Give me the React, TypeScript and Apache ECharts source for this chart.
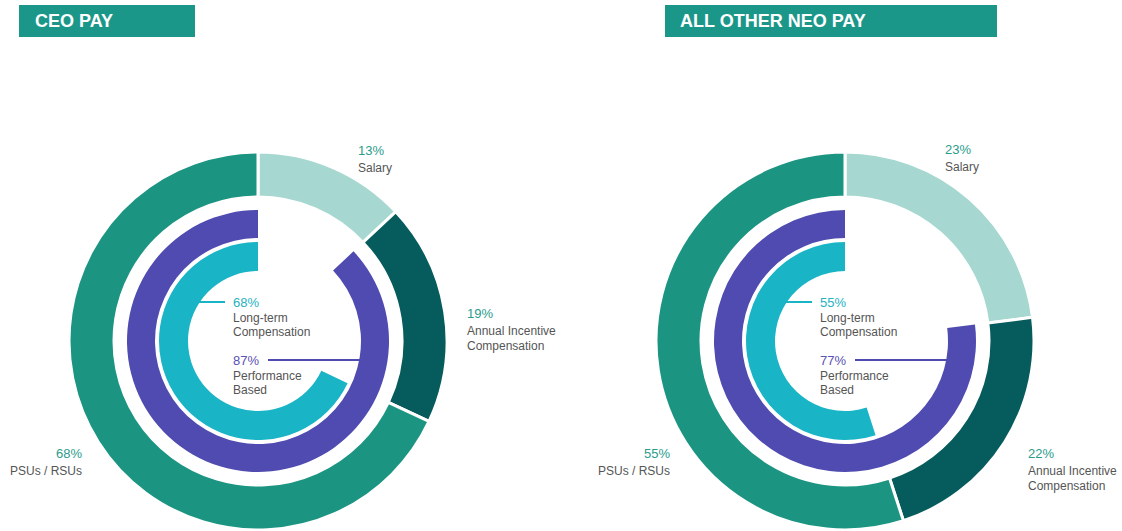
import React, { useEffect, useRef } from "react";
import * as echarts from "echarts";

// ---- data ----
const headers = ["CEO PAY", "ALL OTHER NEO PAY"];
const outerCategories = ["Salary", "Annual Incentive\nCompensation", "PSUs / RSUs"];
const ceoOuterValues = [13, 19, 68];
const neoOuterValues = [23, 22, 55];
const ringCategories = ["Long-term\nCompensation", "Performance\nBased"];
const ceoRingValues = [68, 87]; // long-term, performance based
const neoRingValues = [55, 77];

// ---- styles / layout ----
const FONT = '"Liberation Sans", Arial, sans-serif';
const outerColors = ["#a6d8d1", "#065b5c", "#1b9582"];
const cyan = "#19b4c6";
const purple = "#4f4bb0";
const teal = "#1b978a";
const pctTeal = "#2a9c8c";
const pctCyan = "#27b1c1";
const pctPurple = "#5a52b3";
const labelGray = "#555";

const R_OUT = [144, 189];
const R_PURPLE = [103, 131];
const R_CYAN = [70, 99];

const charts = [
  {
    header: headers[0],
    outer: ceoOuterValues,
    ring: ceoRingValues,
    cx: 258,
    cy: 341,
    headerRect: [19, 5, 176, 32],
    headerText: [35, 21],
    outerLabels: [
      [100, -197, "left"],
      [209, -34, "left"],
      [-176, 106, "right"],
    ],
  },
  {
    header: headers[1],
    outer: neoOuterValues,
    ring: neoRingValues,
    cx: 845,
    cy: 341,
    headerRect: [665, 5, 332, 32],
    headerText: [680, 21],
    outerLabels: [
      [100, -198, "left"],
      [183, 106, "left"],
      [-175, 106, "right"],
    ],
  },
];

function buildOption() {
  const series: any[] = [];
  const graphic: any[] = [];
  charts.forEach((c) => {
    series.push({
      type: "pie",
      name: c.header + " outer",
      center: [c.cx, c.cy],
      radius: R_OUT,
      startAngle: 90,
      clockwise: true,
      label: { show: false },
      labelLine: { show: false },
      silent: true,
      itemStyle: { borderColor: "#fff", borderWidth: 3 },
      data: c.outer.map((v, i) => ({
        name: outerCategories[i],
        value: v,
        itemStyle: { color: outerColors[i] },
      })),
    });
    const ringDefs = [
      { v: c.ring[1], r: R_PURPLE, color: purple, name: ringCategories[1] },
      { v: c.ring[0], r: R_CYAN, color: cyan, name: ringCategories[0] },
    ];
    ringDefs.forEach((d) => {
      series.push({
        type: "pie",
        name: c.header + " " + d.name,
        center: [c.cx, c.cy],
        radius: d.r,
        startAngle: 90,
        clockwise: true,
        silent: true,
        label: { show: false },
        labelLine: { show: false },
        data: [
          { name: "rest", value: 100 - d.v, itemStyle: { color: "rgba(0,0,0,0)" } },
          { name: d.name, value: d.v, itemStyle: { color: d.color } },
        ],
      });
    });

    // header
    const [hx, hy, hw, hh] = c.headerRect;
    graphic.push({
      type: "rect",
      shape: { x: hx, y: hy, width: hw, height: hh },
      style: { fill: teal },
    });
    graphic.push({
      type: "text",
      x: c.headerText[0],
      y: c.headerText[1],
      style: {
        text: c.header,
        fill: "#fff",
        font: `bold 18px ${FONT}`,
        verticalAlign: "middle",
        align: "left",
      },
    });

    // outer labels
    c.outer.forEach((v, i) => {
      const [dx, dy, align] = c.outerLabels[i] as [number, number, string];
      graphic.push({
        type: "text",
        x: c.cx + dx,
        y: c.cy + dy,
        style: {
          text: v + "%",
          fill: pctTeal,
          font: `13px ${FONT}`,
          align,
          verticalAlign: "top",
        },
      });
      graphic.push({
        type: "text",
        x: c.cx + dx,
        y: c.cy + dy + 16,
        style: {
          text: outerCategories[i],
          fill: labelGray,
          font: `12px ${FONT}`,
          lineHeight: 15,
          align,
          verticalAlign: "top",
        },
      });
    });

    // inner labels
    const inner = [
      { v: c.ring[0], name: ringCategories[0], color: pctCyan, line: cyan, dy: -45, lx1: -70, lx2: -33 },
      { v: c.ring[1], name: ringCategories[1], color: pctPurple, line: purple, dy: 13, lx1: 10, lx2: 110 },
    ];
    inner.forEach((d) => {
      graphic.push({
        type: "line",
        shape: { x1: c.cx + d.lx1, y1: c.cy + d.dy + 6, x2: c.cx + d.lx2, y2: c.cy + d.dy + 6 },
        style: { stroke: d.line, lineWidth: 2 },
      });
      graphic.push({
        type: "text",
        x: c.cx - 25,
        y: c.cy + d.dy,
        style: {
          text: d.v + "%",
          fill: d.color,
          font: `13px ${FONT}`,
          align: "left",
          verticalAlign: "top",
        },
      });
      graphic.push({
        type: "text",
        x: c.cx - 25,
        y: c.cy + d.dy + 15,
        style: {
          text: d.name,
          fill: labelGray,
          font: `12px ${FONT}`,
          lineHeight: 14,
          align: "left",
          verticalAlign: "top",
        },
      });
    });
  });

  return {
    animation: false,
    backgroundColor: "#fff",
    series,
    graphic,
  };
}

export default function App() {
  const ref = useRef<HTMLDivElement>(null);
  useEffect(() => {
    if (!ref.current) return;
    const chart = echarts.init(ref.current, undefined, { renderer: "svg" });
    chart.setOption(buildOption());
    return () => chart.dispose();
  }, []);
  return (
    <div
      ref={ref}
      style={{ position: "absolute", left: 0, top: 0, width: 1122, height: 531, background: "#fff" }}
    />
  );
}
